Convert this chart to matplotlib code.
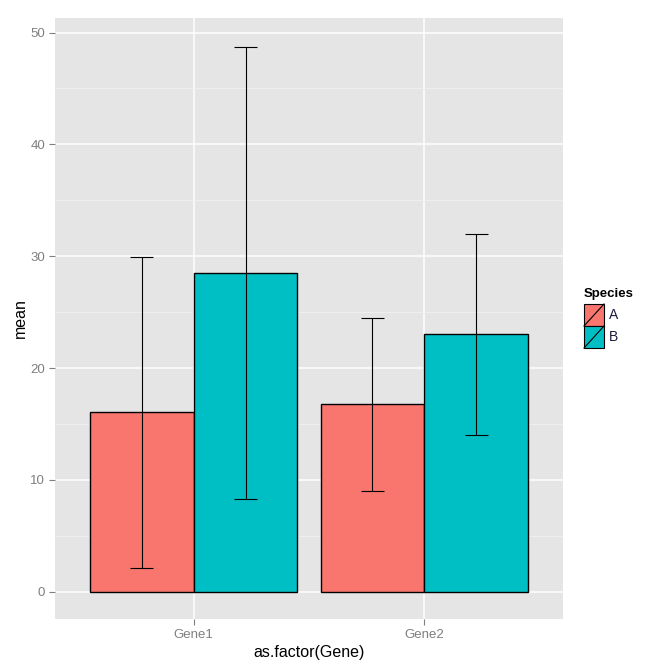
import matplotlib
matplotlib.use("Agg")
import matplotlib.pyplot as plt
from matplotlib.patches import Rectangle
import numpy as np

plt.rcParams["font.family"] = ["Liberation Sans", "DejaVu Sans"]

genes = ["Gene1", "Gene2"]
species = ["A", "B"]
means = {"A": [16.1, 16.8], "B": [28.5, 23.0]}
lower = {"A": [2.1, 9.0], "B": [8.3, 14.0]}
upper = {"A": [29.9, 24.5], "B": [48.7, 32.0]}
colors = {"A": "#F8766D", "B": "#00BFC4"}

W, H = 672, 672
fig = plt.figure(figsize=(W / 100, H / 100), dpi=100)
ax = fig.add_axes([55 / W, 53 / H, 508 / W, 601 / H])
ax.set_facecolor("#E5E5E5")

x = np.arange(1, len(genes) + 1)
bw = 0.45
for i, sp in enumerate(species):
    xs = x + (i - 0.5) * bw
    ax.bar(xs, means[sp], width=bw, color=colors[sp], edgecolor="black",
           linewidth=1.0, zorder=3)
    for xx, lo, hi in zip(xs, lower[sp], upper[sp]):
        ax.vlines(xx, lo, hi, color="black", linewidth=0.8, zorder=4)
        ax.hlines([lo, hi], xx - 0.05, xx + 0.05, color="black", linewidth=0.8, zorder=4)

ax.set_xlim(0.4, 2.6)
ax.set_ylim(-2.44, 51.3)
ax.set_xticks(x)
ax.set_xticklabels(genes)
ax.set_yticks([0, 10, 20, 30, 40, 50])
ax.set_yticks([5, 15, 25, 35, 45], minor=True)
ax.grid(which="major", color="white", linewidth=1.1, zorder=0)
ax.grid(which="minor", axis="y", color="#F2F2F2", linewidth=0.5, zorder=0)
ax.set_axisbelow(True)
for s in ax.spines.values():
    s.set_visible(False)
ax.tick_params(axis="both", which="major", colors="#7F7F7F", labelsize=9.5,
               length=4, width=0.8, pad=3)
ax.tick_params(axis="x", which="minor", bottom=False)
ax.tick_params(axis="y", which="minor", left=False)
ax.set_xlabel("as.factor(Gene)", fontsize=11.5, labelpad=3)
ax.set_ylabel("mean", fontsize=11.5, labelpad=2)

# legend drawn by hand, ggplot style keys
fig.text(584 / W, 1 - 294 / H, "Species", fontsize=9.5, fontweight="bold",
         va="center", ha="left")
key_w, key_h = 20, 22
for k, sp in enumerate(species):
    y0 = 304 + k * key_h
    lx, ly = 584 / W, 1 - (y0 + key_h) / H
    fig.patches.append(Rectangle((lx, ly), key_w / W, key_h / H, transform=fig.transFigure,
                                 facecolor=colors[sp], edgecolor="black", linewidth=0.8))
    fig.lines.append(plt.Line2D([lx, lx + key_w / W], [ly, ly + key_h / H],
                                transform=fig.transFigure, color="black", linewidth=0.8))
    fig.text((584 + key_w + 5) / W, 1 - (y0 + key_h / 2) / H, sp, fontsize=10,
             va="center", ha="left", color="#1A1A40")

fig.savefig("out.png", dpi=100)
